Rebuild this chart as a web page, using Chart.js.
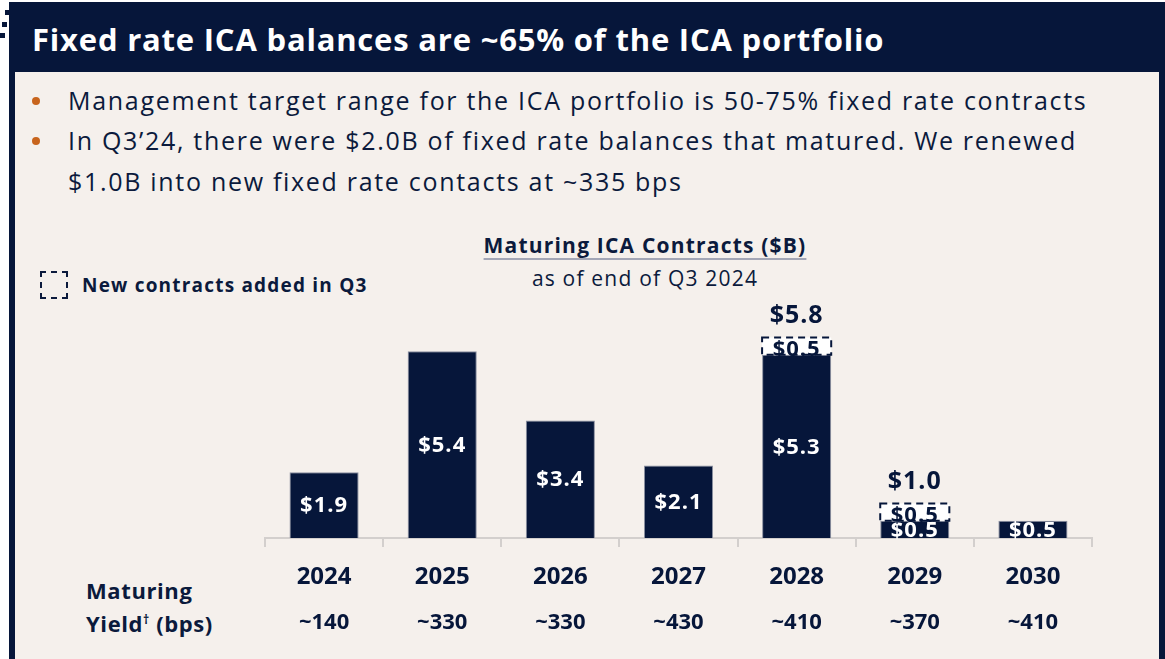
<!DOCTYPE html>
<html>
<head>
<meta charset="utf-8">
<script src="https://cdn.jsdelivr.net/npm/chart.js@4.4.1/dist/chart.umd.min.js"></script>
<style>
  html, body { margin:0; padding:0; background:#fff; width:1165px; height:659px; overflow:hidden; font-family:"Open Sans", "Noto Sans", sans-serif; }
  #frame { position:absolute; left:9px; top:2px; width:1156px; height:660px; background:#06163a; }
  #panel { position:absolute; left:15px; top:72px; width:1144px; height:600px; background:#f5f0ec; }
  #head { position:absolute; left:32px; top:18px; color:#fff; font-weight:700; font-size:31px; letter-spacing:0.8px; white-space:nowrap; }
  .bul { position:absolute; left:68px; color:#0b1a3c; font-size:25px; letter-spacing:1.7px; white-space:nowrap; }
  .dot { position:absolute; left:32px; width:8px; height:8px; border-radius:50%; background:#c8641c; }
  #ttl { position:absolute; left:345px; width:600px; top:229px; text-align:center; color:#0b1a3c; font-size:21px; letter-spacing:1.2px; line-height:33px; }
  #ttl b { text-decoration:underline; text-decoration-color:#a3a6b6; text-decoration-thickness:2px; text-underline-offset:5px; }
  #leg { position:absolute; left:40px; top:271px; width:24px; height:24px; border:2px dashed #0b1a3c; }
  #legt { position:absolute; left:82px; top:272px; font-size:19px; letter-spacing:1.2px; font-weight:700; color:#0b1a3c; }
  #rowl { position:absolute; left:86px; top:575px; font-size:22px; letter-spacing:0.6px; font-weight:700; color:#0b1a3c; line-height:30px; }
  .deco { position:absolute; width:5px; height:5px; background:#06163a; }
  canvas { position:absolute; left:0; top:0; }
</style>
</head>
<body>
<div class="deco" style="left:5px;top:10px"></div>
<div class="deco" style="left:2px;top:22px"></div>
<div class="deco" style="left:0px;top:33px"></div>
<div id="frame"></div>
<div id="panel"></div>
<div id="head">Fixed rate ICA balances are ~65% of the ICA portfolio</div>
<div class="dot" style="top:97px"></div>
<div class="bul" style="top:83px">Management target range for the ICA portfolio is 50-75% fixed rate contracts</div>
<div class="dot" style="top:137px"></div>
<div class="bul" style="top:123px">In Q3’24, there were $2.0B of fixed rate balances that matured. We renewed</div>
<div class="bul" style="top:164px">$1.0B into new fixed rate contacts at ~335 bps</div>
<div id="ttl"><b>Maturing ICA Contracts ($B)</b><br>as of end of Q3 2024</div>
<div id="leg"></div>
<div id="legt">New contracts added in Q3</div>
<div id="rowl">Maturing<br>Yield<sup style="font-size:12px">†</sup> (bps)</div>
<canvas id="c" width="1165" height="659"></canvas>
<script>
const years = ['2024','2025','2026','2027','2028','2029','2030'];
const yields = ['~140','~330','~330','~430','~410','~370','~410'];
const existing = [1.9, 5.4, 3.4, 2.1, 5.3, 0.5, 0.5];
const added = [0, 0, 0, 0, 0.5, 0.5, 0];
const totals = [null, null, null, null, 5.8, 1.0, null];

const NAVY = '#06163a';
const FONT = '"Open Sans"';

const labelPlugin = {
  id: 'labels',
  afterDatasetsDraw(chart) {
    const ctx = chart.ctx;
    const m0 = chart.getDatasetMeta(0);
    const m1 = chart.getDatasetMeta(1);
    ctx.save();
    ctx.textAlign = 'center';
    ctx.textBaseline = 'middle';
    // dashed boxes for new contracts
    m1.data.forEach((el, i) => {
      if (!added[i]) return;
      const w = el.width;
      ctx.setLineDash([7, 5]);
      ctx.lineWidth = 2;
      ctx.strokeStyle = NAVY;
      ctx.strokeRect(el.x - w / 2, el.y, w, el.base - el.y);
    });
    ctx.setLineDash([]);
    ctx.letterSpacing = '1px';
    ctx.font = 'bold 22px ' + FONT;
    m0.data.forEach((el, i) => {
      ctx.fillStyle = '#fff';
      ctx.fillText('$' + existing[i].toFixed(1), el.x, (el.y + el.base) / 2 + 1);
    });
    m1.data.forEach((el, i) => {
      if (!added[i]) return;
      ctx.fillStyle = NAVY;
      ctx.fillText('$' + added[i].toFixed(1), el.x, (el.y + el.base) / 2 + 4);
    });
    ctx.font = 'bold 25px ' + FONT;
    m1.data.forEach((el, i) => {
      if (totals[i] == null) return;
      ctx.fillStyle = NAVY;
      ctx.fillText('$' + totals[i].toFixed(1), el.x, el.y - 22);
    });
    ctx.restore();
  }
};

new Chart(document.getElementById('c'), {
  type: 'bar',
  data: {
    labels: years,
    datasets: [
      { data: existing, backgroundColor: NAVY, borderColor: '#8a8fa0', borderWidth: 1, borderSkipped: 'bottom' },
      { data: added, backgroundColor: '#ffffff', borderWidth: 0 }
    ]
  },
  options: {
    responsive: false,
    animation: false,
    events: [],
    layout: { padding: { left: 265, right: 73, top: 296, bottom: 0 } },
    datasets: { bar: { categoryPercentage: 1, barPercentage: 0.585 } },
    plugins: { legend: { display: false }, tooltip: { enabled: false } },
    scales: {
      y: { display: false, stacked: true, min: 0, max: 7 },
      x: {
        stacked: true,
        grid: { offset: true, drawOnChartArea: false, color: '#d3cfcd', lineWidth: 2, tickLength: 9 },
        border: { color: '#d3cfcd', width: 2 },
        ticks: { color: NAVY, font: { family: 'Open Sans', size: 24, weight: 'bold' }, padding: 16 },
        afterFit(s) { s.height = 60; }
      },
      x2: {
        type: 'category',
        labels: yields,
        position: 'bottom',
        grid: { display: false },
        border: { display: false },
        ticks: { color: NAVY, font: { family: 'Open Sans', size: 22, weight: 'bold' }, padding: 4 },
        afterFit(s) { s.height = 61; }
      }
    }
  },
  plugins: [labelPlugin]
});
</script>
</body>
</html>
